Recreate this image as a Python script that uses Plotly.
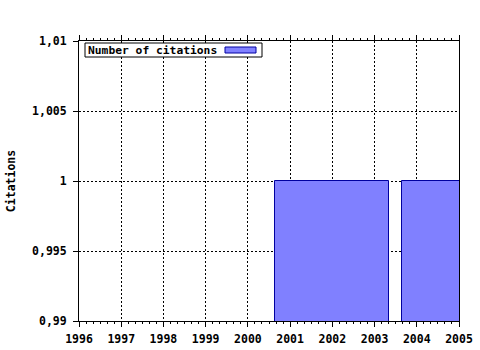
import plotly.graph_objects as go

years = [2002, 2005]
citations = [1, 1]
bar_width = 2.7
x_ticks = list(range(1996, 2006))
y_ticks = [0.99, 0.995, 1, 1.005, 1.01]
series_name = "Number of citations"

FONT = dict(family="DejaVu Sans Mono", size=11.5, color="black", weight="bold")

fig = go.Figure()
fig.add_trace(go.Bar(
    x=years, y=citations, width=bar_width, name=series_name,
    marker=dict(color="#8080FF", line=dict(color="#0000A0", width=1)),
    showlegend=False,
))

L, R, T, B = 79, 21, 41, 29
PW, PH = 480 - L - R, 350 - T - B

def px(x):
    return (x - L) / PW

def py(y):
    return (350 - B - y) / PH

fig.update_layout(
    width=480, height=350,
    margin=dict(l=L, r=R, t=T, b=B),
    paper_bgcolor="white", plot_bgcolor="white",
    separators=", ",
    font=FONT,
    bargap=0,
    xaxis=dict(
        range=[1996, 2005], tickvals=x_ticks, ticktext=[str(v) for v in x_ticks],
        showgrid=True, gridcolor="black", griddash="2px,2px", gridwidth=1,
        showline=True, linecolor="black", linewidth=1, mirror="allticks",
        ticks="outside", ticklen=5, tickcolor="black", ticklabelstandoff=2,
        minor=dict(dtick=1/6, tick0=1996, ticks="outside", ticklen=2, tickcolor="black", showgrid=False),
        tickfont=FONT, zeroline=False, automargin=False,
    ),
    yaxis=dict(
        range=[0.99, 1.01], tickvals=y_ticks,
        ticktext=["0,99", "0,995", "1", "1,005", "1,01"],
        showgrid=True, gridcolor="black", griddash="2px,2px", gridwidth=1,
        showline=True, linecolor="black", linewidth=1, mirror=True,
        ticks="outside", ticklen=5, tickcolor="black", ticklabelstandoff=4,
        tickfont=FONT, zeroline=False, automargin=False,
        title=dict(text="Citations", font=FONT, standoff=14),
    ),
    shapes=[
        dict(type="rect", xref="paper", yref="paper", layer="above",
             x0=px(85), x1=px(262), y0=py(57), y1=py(43),
             fillcolor="white", line=dict(color="black", width=1)),
        dict(type="rect", xref="paper", yref="paper", layer="above",
             x0=px(225), x1=px(256), y0=py(53), y1=py(47),
             fillcolor="#8080FF", line=dict(color="#0000A0", width=1)),
    ],
    annotations=[
        dict(text=series_name, xref="paper", yref="paper", x=px(86), y=py(50),
             xanchor="left", yanchor="middle", showarrow=False,
             font=dict(family="DejaVu Sans Mono", size=11.3, color="black", weight="bold")),
    ],
)

fig.write_html("out.html")
